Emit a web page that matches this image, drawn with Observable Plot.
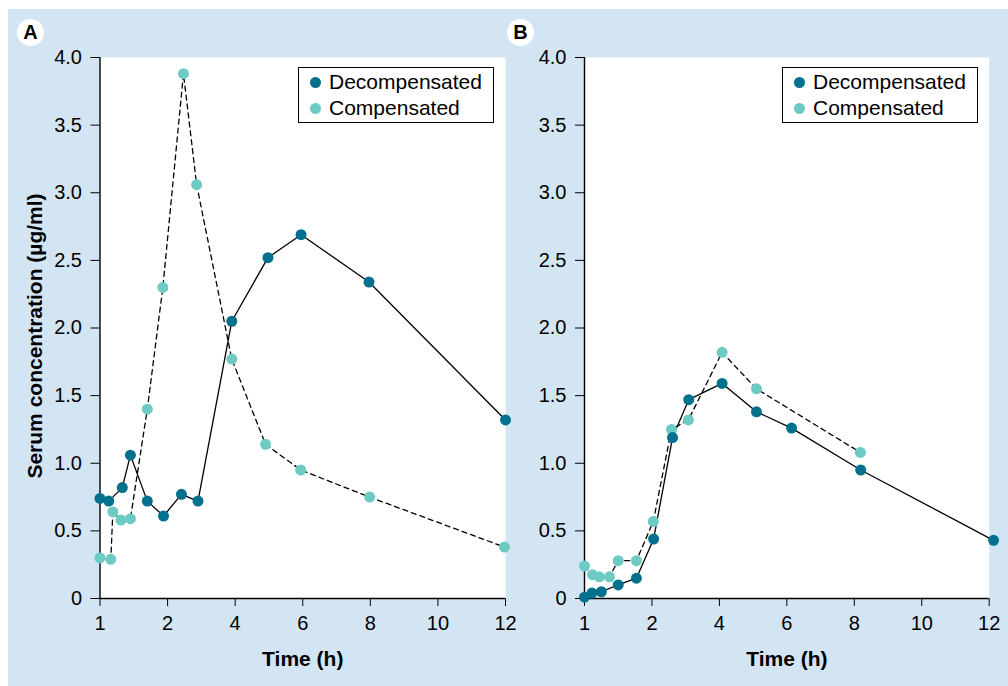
<!DOCTYPE html>
<html>
<head>
<meta charset="utf-8">
<script src="https://cdn.jsdelivr.net/npm/d3@7"></script>
<script src="https://cdn.jsdelivr.net/npm/@observablehq/plot@0.6"></script>
<style>
  body { margin: 0; background: #ffffff; }
  #wrap { position: relative; width: 1008px; height: 686px; overflow: hidden; font-family: "Liberation Sans", Arial, sans-serif; color: #000; }
  #bg { position: absolute; left: 8px; top: 9px; right: 0; bottom: 0; background: #d3e4f3; }
  .panel { position: absolute; top: 0; }
  .tag { position: absolute; width: 27px; height: 27px; border-radius: 50%; background: #fff; font-weight: bold; font-size: 20px; line-height: 27px; text-align: center; }
  .legend { position: absolute; top: 67px; width: 196px; height: 56px; border: 1px solid #000; background: #fff; box-sizing: border-box; font-size: 21px; }
  .legend .row { position: absolute; left: 0; height: 24px; line-height: 24px; white-space: nowrap; }
  .legend .sw { position: absolute; left: 11px; top: 7px; width: 11px; height: 11px; border-radius: 50%; }
  .legend .lb { position: absolute; left: 30px; top: 0; }
</style>
</head>
<body>
<div id="wrap">
  <div id="bg"></div>
  <div id="pa" class="panel" style="left:0px"></div>
  <div id="pb" class="panel" style="left:504px"></div>
  <div class="tag" style="left:17px;top:19px">A</div>
  <div class="tag" style="left:507px;top:19px">B</div>
  <div class="legend" style="left:298px" id="lega"></div>
  <div class="legend" style="left:782px" id="legb"></div>
</div>
<script>
// ---- data ----
const timeTicks = [1, 2, 4, 6, 8, 10, 12];
const concTicks = [0, 0.5, 1.0, 1.5, 2.0, 2.5, 3.0, 3.5, 4.0];
const seriesNames = ["Decompensated", "Compensated"];
const seriesColors = ["#03718e", "#6dcbc4"];

// Panel A
const aDecompTime = [1.0, 1.13, 1.33, 1.45, 1.70, 1.94, 2.41, 2.90, 3.90, 4.97, 5.95, 7.96, 12.0];
const aDecompConc = [0.74, 0.72, 0.82, 1.06, 0.72, 0.61, 0.77, 0.72, 2.05, 2.52, 2.69, 2.34, 1.32];
const aCompTime = [1.0, 1.16, 1.19, 1.31, 1.45, 1.70, 1.93, 2.47, 2.86, 3.90, 4.90, 5.94, 7.98, 11.97];
const aCompConc = [0.30, 0.29, 0.64, 0.58, 0.59, 1.40, 2.30, 3.88, 3.06, 1.77, 1.14, 0.95, 0.75, 0.38];

// Panel B
const bDecompTime = [1.0, 1.11, 1.25, 1.50, 1.77, 2.05, 2.61, 3.09, 4.08, 5.10, 6.14, 8.19, 12.13];
const bDecompConc = [0.01, 0.04, 0.05, 0.10, 0.15, 0.44, 1.19, 1.47, 1.59, 1.38, 1.26, 0.95, 0.43];
const bCompTime = [1.0, 1.12, 1.22, 1.37, 1.50, 1.77, 2.04, 2.58, 3.08, 4.08, 5.10, 8.18];
const bCompConc = [0.24, 0.175, 0.16, 0.16, 0.28, 0.28, 0.57, 1.25, 1.32, 1.82, 1.55, 1.08];

const zip = (t, v) => t.map((d, i) => ({t: d, v: v[i]}));
const FONT = '"Liberation Sans", Arial, sans-serif';

function panel({decomp, comp, left, width, right, yTitle}) {
  const w = right - left;
  const marks = [
    Plot.frame({fill: "white", stroke: "none"}),
    Plot.line(comp, {x: "t", y: "v", stroke: "black", strokeWidth: 1.3, strokeDasharray: "5,4"}),
    Plot.line(decomp, {x: "t", y: "v", stroke: "black", strokeWidth: 1.3}),
    Plot.ruleX([1], {stroke: "black", strokeWidth: 1.4}),
    Plot.ruleY([0], {stroke: "black", strokeWidth: 1.4}),
    Plot.dot(comp, {x: "t", y: "v", r: 5.5, fill: seriesColors[1], stroke: "none"}),
    Plot.dot(decomp, {x: "t", y: "v", r: 5.5, fill: seriesColors[0], stroke: "none"}),
    Plot.text(["Time (h)"], {frameAnchor: "bottom", dy: 67, fontWeight: "bold", fontSize: 21, fill: "black"})
  ];
  if (yTitle) {
    marks.push(Plot.text([yTitle], {frameAnchor: "left", textAnchor: "middle", dx: -65, dy: 8, rotate: -90, fontWeight: "bold", fontSize: 21, fill: "black"}));
  }
  return Plot.plot({
    width: width,
    height: 686,
    marginLeft: left,
    marginRight: width - right,
    marginTop: 57,
    marginBottom: 88,
    style: {background: "transparent", fontFamily: FONT, fontSize: "20px", color: "#000", overflow: "visible"},
    x: {type: "linear", domain: [1, 2, 12], range: [left, left + w / 6, right], ticks: timeTicks, tickSize: 8, tickPadding: 9, label: null},
    y: {domain: [0, 4], ticks: concTicks, tickFormat: d => d === 0 ? "0" : d3.format(".1f")(d), tickSize: 9, tickPadding: 9, label: null},
    marks
  });
}

document.getElementById("pa").appendChild(panel({
  decomp: zip(aDecompTime, aDecompConc), comp: zip(aCompTime, aCompConc),
  left: 99.5, width: 520, right: 505, yTitle: "Serum concentration (µg/ml)"
}));
document.getElementById("pb").appendChild(panel({
  decomp: zip(bDecompTime, bDecompConc), comp: zip(bCompTime, bCompConc),
  left: 80, width: 504, right: 484.7, yTitle: null
}));

function legend(id) {
  const el = document.getElementById(id);
  seriesNames.forEach((name, i) => {
    const row = document.createElement("div");
    row.className = "row";
    row.style.top = (2 + i * 26) + "px";
    const sw = document.createElement("span");
    sw.className = "sw";
    sw.style.background = seriesColors[i];
    const lb = document.createElement("span");
    lb.className = "lb";
    lb.textContent = name;
    row.appendChild(sw); row.appendChild(lb);
    el.appendChild(row);
  });
}
legend("lega");
legend("legb");
</script>
</body>
</html>
